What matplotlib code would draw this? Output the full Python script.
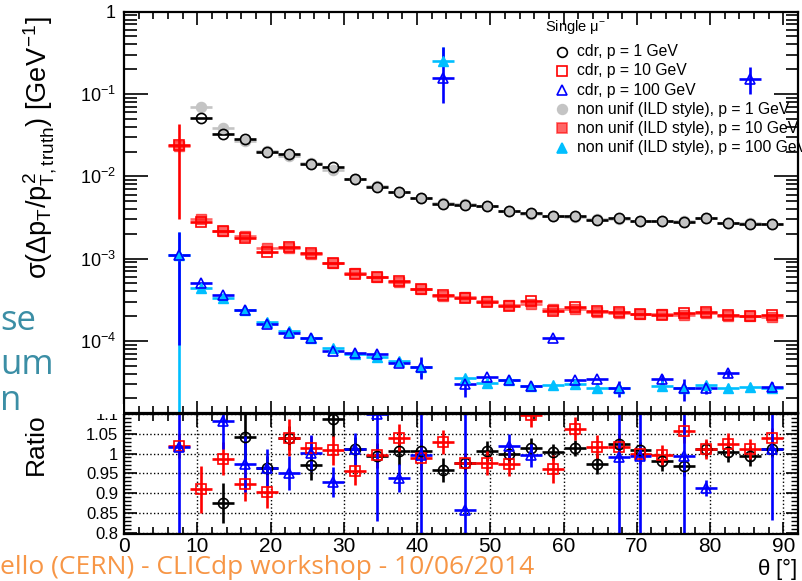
import numpy as np
import matplotlib
matplotlib.use('Agg')
import matplotlib.pyplot as plt
from matplotlib.lines import Line2D
from matplotlib.patches import Rectangle
from matplotlib.ticker import MultipleLocator, LogLocator, NullFormatter, FixedLocator, FixedFormatter

plt.rcParams['font.family'] = ['Liberation Sans', 'DejaVu Sans']
plt.rcParams['mathtext.fontset'] = 'custom'
plt.rcParams['mathtext.rm'] = 'Liberation Sans'
plt.rcParams['mathtext.it'] = 'Liberation Sans'
plt.rcParams['mathtext.bf'] = 'Liberation Sans:bold'

nan = np.nan

# bin centres (3 degree bins) and half width
theta = [7.5, 10.5, 13.5, 16.5, 19.5, 22.5, 25.5, 28.5, 31.5, 34.5, 37.5, 40.5, 43.5, 46.5,
         49.5, 52.5, 55.5, 58.5, 61.5, 64.5, 67.5, 70.5, 73.5, 76.5, 79.5, 82.5, 85.5, 88.5]
half_bin = 1.5

# sigma(dpT/pT^2) [GeV^-1]
nonunif_1 = [nan, 0.069, 0.0383, 0.0269, 0.0203, 0.0177, 0.0144, 0.0119, 0.0092, 0.0076, 0.0064,
             0.0055, 0.0048, 0.0046, 0.0043, 0.0038, 0.0035, 0.0033, 0.0032, 0.0030, 0.0030,
             0.00286, 0.00288, 0.00286, 0.0031, 0.00273, 0.00268, 0.00263]
cdr_1 = [nan, 0.0507, 0.033, 0.0280, 0.0195, 0.0184, 0.0140, 0.0129, 0.0093, 0.0075, 0.0064,
         0.0055, 0.0046, 0.0045, 0.0043, 0.0038, 0.0036, 0.0033, 0.00325, 0.00292, 0.00307,
         0.00288, 0.00283, 0.00277, 0.00313, 0.00274, 0.00266, 0.00266]
nonunif_10 = [0.0233, 0.0030, 0.00218, 0.0019, 0.00133, 0.00133, 0.00114, 0.00088, 0.000675,
              0.000593, 0.000515, 0.00043, 0.000354, 0.000339, 0.000305, 0.000273, 0.000278,
              0.000242, 0.000242, 0.000226, 0.00022, 0.00021, 0.00021, 0.000206, 0.00022,
              0.0002, 0.0002, 0.000197]
cdr_10 = [0.0237, 0.0028, 0.00215, 0.00176, 0.0012, 0.00138, 0.00116, 0.00089, 0.000645,
          0.000591, 0.000536, 0.000425, 0.000365, 0.000331, 0.000298, 0.000266, 0.000305,
          0.000233, 0.000257, 0.00023, 0.000224, 0.00021, 0.000209, 0.000218, 0.000223,
          0.000205, 0.000202, 0.000205]
cdr_10_lo = [0.0207, 0, 0, 0, 0, 0, 0, 0, 0, 0, 0, 0, 0, 0,
             0, 0, 0, 0, 0, 0, 0, 0, 0, 0, 0, 0, 0, 0]
cdr_10_hi = [0.0192, 0, 0, 0, 0, 0, 0, 0, 0, 0, 0, 0, 0, 0,
             0, 0, 0, 0, 0, 0, 0, 0, 0, 0, 0, 0, 0, 0]
nonunif_100 = [0.0011, 4.36e-4, 3.3e-4, 2.4e-4, 1.68e-4, 1.3e-4, 1.07e-4, 8.2e-5, 7.0e-5, 6.4e-5,
               5.7e-5, 4.8e-5, 0.252, 3.5e-5, 3.1e-5, 3.3e-5, 2.8e-5, 2.9e-5, 3.0e-5, 2.65e-5,
               2.7e-5, nan, 2.8e-5, 2.7e-5, 2.9e-5, 2.7e-5, 2.75e-5, 2.7e-5]
nonunif_100_lo = [0.001099, 0, 0, 0, 0, 0, 0, 0, 0, 0.8e-5, 0.5e-5, 1.2e-5, 0.03, 0.3e-5,
                  0.3e-5, 0, 0, 0.3e-5, 0, 0.3e-5, 0.3e-5, nan, 0.3e-5, 0.3e-5, 0.3e-5,
                  0.3e-5, 0.3e-5, 0.3e-5]
nonunif_100_hi = [0.001, 0, 0, 0, 0, 0, 0, 0, 0, 0.8e-5, 0.5e-5, 1.2e-5, 0.124, 0.3e-5,
                  0.3e-5, 0, 0, 0.3e-5, 0, 0.3e-5, 0.3e-5, nan, 0.3e-5, 0.3e-5, 0.3e-5,
                  0.3e-5, 0.3e-5, 0.3e-5]
cdr_100 = [0.00112, 5.1e-4, 3.57e-4, 2.34e-4, 1.62e-4, 1.24e-4, 1.07e-4, 7.6e-5, 7.1e-5, 7.0e-5,
           5.35e-5, 4.8e-5, 0.155, 3.0e-5, 3.67e-5, 3.37e-5, 2.8e-5, 1.09e-4, 3.35e-5, 3.4e-5,
           2.68e-5, nan, 3.4e-5, 2.68e-5, 2.65e-5, 4.04e-5, 0.151, 2.73e-5]
cdr_100_lo = [0.00103, 0, 0, 0, 0, 0, 0, 0, 0, 0.5e-5, 0, 1.4e-5, 0.078, 0.9e-5,
              0, 0, 0, 0.4e-5, 0, 0, 0.6e-5, nan, 0.5e-5, 0.8e-5, 0.4e-5, 0.4e-5, 0.05, 0.4e-5]
cdr_100_hi = [0.001, 0, 0, 0, 0, 0, 0, 0, 0, 0.5e-5, 0, 1.6e-5, 0.22, 0.9e-5,
              0, 0, 0, 0.4e-5, 0, 0, 0.6e-5, nan, 0.5e-5, 0.8e-5, 0.4e-5, 0.4e-5, 0.064, 0.4e-5]

# ratio cdr / non unif
ratio_1 = [nan, nan, 0.875, 1.041, 0.963, 1.04, 0.972, 1.086, 1.012, 0.993, 1.006, 1.006, 0.958,
           0.976, 1.006, 1.0, 1.014, 1.003, 1.014, 0.974, 1.025, 1.008, 0.982, 0.968, 1.012,
           1.004, 0.993, 1.012]
ratio_1_err = [nan, nan, 0.05, 0.06, 0.03, 0.03, 0.04, 0.045, 0.03, 0.03, 0.035, 0.03, 0.03,
               0.025, 0.025, 0.025, 0.025, 0.02, 0.02, 0.025, 0.025, 0.02, 0.025, 0.025, 0.02,
               0.025, 0.025, 0.02]
ratio_10 = [1.019, 0.910, 0.987, 0.923, 0.904, 1.04, 1.014, 1.008, 0.955, 0.997, 1.040, 0.989,
            1.030, 0.976, 0.976, 0.974, 1.098, 0.961, 1.063, 1.017, 1.016, 0.999, 0.997, 1.057,
            1.012, 1.023, 1.012, 1.040]
ratio_10_err = [0.03, 0.059, 0.042, 0.044, 0.042, 0.047, 0.03, 0.036, 0.034, 0.03, 0.034, 0.03,
                0.03, 0.025, 0.03, 0.03, 0.03, 0.035, 0.03, 0.03, 0.03, 0.025, 0.025, 0.03,
                0.025, 0.03, 0.025, 0.025]
ratio_100 = [1.016, nan, 1.082, 0.974, 0.964, 0.951, 1.002, 0.927, 1.012, 1.099, 0.938, 0.997,
             nan, 0.858, nan, 1.019, 0.997, nan, nan, nan, 0.992, 0.994, nan, 0.994, 0.913,
             nan, nan, 1.012]
ratio_100_err = [0.5, nan, 0.07, 0.07, 0.047, 0.042, 0.045, 0.038, 0.04, 0.27, 0.036, 0.5,
                 nan, 0.5, nan, 0.03, 0.03, nan, nan, nan, 0.5, 0.5, nan, 0.5, 0.02,
                 nan, nan, 0.18]

W, H = 802, 581


def box(l, t, r, b):
    return [l / W, 1 - b / H, (r - l) / W, (b - t) / H]


fig = plt.figure(figsize=(W / 100, H / 100), dpi=100)
ax = fig.add_axes(box(124, 11.7, 798, 412.7))
axr = fig.add_axes(box(124, 413.5, 798, 534.3))

grey = '#c4c4c4'
salmon = (1.0, 0.0, 0.0, 0.6)
cyan = '#00bfff'
lw = 1.9

# non uniform (filled) first, cdr (open) on top
ax.errorbar(theta, nonunif_1, xerr=half_bin, fmt='o', ms=7.3, mfc=grey, mec=grey,
            ecolor=grey, elinewidth=lw, capsize=0)
ax.errorbar(theta, nonunif_10, xerr=half_bin, fmt='s', ms=7.3,
            mfc=salmon, mec=salmon, ecolor=salmon, elinewidth=lw, capsize=0)
ax.errorbar(theta, nonunif_100, xerr=half_bin, yerr=[nonunif_100_lo, nonunif_100_hi],
            fmt='^', ms=7.8, mfc=cyan, mec=cyan, ecolor=cyan, elinewidth=lw, capsize=0)
ax.errorbar(theta, cdr_1, xerr=half_bin, fmt='o', ms=7.3, mfc='none', mec='black', mew=1.2,
            ecolor='black', elinewidth=lw, capsize=0)
ax.errorbar(theta, cdr_10, xerr=half_bin, yerr=[cdr_10_lo, cdr_10_hi], fmt='s', ms=7.3,
            mfc='none', mec='red', mew=1.2, ecolor='red', elinewidth=lw, capsize=0)
ax.errorbar(theta, cdr_100, xerr=half_bin, yerr=[cdr_100_lo, cdr_100_hi], fmt='^', ms=7.8,
            mfc='none', mec='blue', mew=1.2, ecolor='blue', elinewidth=lw, capsize=0)

ax.set_yscale('log')
ax.set_xlim(0, 92)
ax.set_ylim(1.34e-5, 1)
ax.yaxis.set_major_locator(FixedLocator([1e-4, 1e-3, 1e-2, 1e-1, 1]))
ax.yaxis.set_major_formatter(FixedFormatter([r'$10^{-4}$', r'$10^{-3}$', r'$10^{-2}$',
                                             r'$10^{-1}$', '1']))
ax.yaxis.set_minor_locator(LogLocator(base=10, subs=np.arange(2, 10), numticks=20))
ax.yaxis.set_minor_formatter(NullFormatter())
ax.xaxis.set_major_locator(MultipleLocator(10))
ax.xaxis.set_minor_locator(MultipleLocator(2))
ax.tick_params(axis='x', which='both', direction='in', top=True, bottom=True, labelbottom=False)
ax.tick_params(axis='x', which='major', length=9, width=1.2)
ax.tick_params(axis='x', which='minor', length=5, width=1.2)
ax.tick_params(axis='y', which='both', direction='in', left=True, right=True, labelsize=13, pad=6)
ax.tick_params(axis='y', which='major', length=17, width=1.2)
ax.tick_params(axis='y', which='minor', length=9, width=1.2)
for s in ax.spines.values():
    s.set_linewidth(1.6)

# ratio panel
axr.errorbar(theta, ratio_1, xerr=half_bin, yerr=ratio_1_err, fmt='o', ms=7.3, mfc='none',
             mec='black', mew=1.2, ecolor='black', elinewidth=lw, capsize=0)
axr.errorbar(theta, ratio_10, xerr=half_bin, yerr=ratio_10_err, fmt='s', ms=7.3, mfc='none',
             mec='red', mew=1.2, ecolor='red', elinewidth=lw, capsize=0)
axr.errorbar(theta, ratio_100, xerr=half_bin, yerr=ratio_100_err, fmt='^', ms=7.8, mfc='none',
             mec='blue', mew=1.2, ecolor='blue', elinewidth=lw, capsize=0)
axr.set_xlim(0, 92)
axr.set_ylim(0.796, 1.101)
axr.xaxis.set_major_locator(MultipleLocator(10))
axr.xaxis.set_minor_locator(MultipleLocator(2))
axr.yaxis.set_major_locator(FixedLocator([0.8, 0.85, 0.9, 0.95, 1.0, 1.05, 1.1]))
axr.yaxis.set_major_formatter(FixedFormatter(['0.8', '0.85', '0.9', '0.95', '1', '1.05', '1.1']))
axr.yaxis.set_minor_locator(MultipleLocator(0.01))
axr.grid(True, which='major', color='black', linestyle=':', linewidth=1.0)
axr.tick_params(axis='x', which='both', direction='in', top=True, bottom=True,
                labelsize=15, pad=2)
axr.tick_params(axis='x', which='major', length=9, width=1.2)
axr.tick_params(axis='x', which='minor', length=5, width=1.2)
axr.tick_params(axis='y', which='both', direction='in', left=True, right=True,
                labelsize=12, pad=4)
axr.tick_params(axis='y', which='major', length=9, width=1.2)
axr.tick_params(axis='y', which='minor', length=5, width=1.0)
for s in axr.spines.values():
    s.set_linewidth(1.6)

# hide the upper part of the cut "1.1" label like in the pad
fig.add_artist(Rectangle((80 / W, 1 - 414 / H), 43 / W, 10 / H, transform=fig.transFigure,
                         facecolor='white', edgecolor='none', zorder=5))

# axis titles
fig.text(40 / W, 1 - 148 / H, r'$\sigma(\Delta p_{T}/p^{2}_{T,truth})\ [GeV^{-1}]$',
         rotation=90, ha='center', va='center', fontsize=19.5)
fig.text(36 / W, 1 - 444 / H, 'Ratio', rotation=90, ha='center', va='center', fontsize=19)
fig.text(797 / W, 1 - 575 / H, r'$\theta$ [°]', ha='right', va='baseline', fontsize=16)

# legend
fig.text(545 / W, 1 - 27 / H, r'Single $\mu^{-}$', ha='left', va='center', fontsize=10.5)
leg_rows = [51.7, 71, 90, 109.3, 128.3, 147.7]
leg_labels = ['cdr, p = 1 GeV', 'cdr, p = 10 GeV', 'cdr, p = 100 GeV',
              'non unif (ILD style), p = 1 GeV', 'non unif (ILD style), p = 10 GeV',
              'non unif (ILD style), p = 100 GeV']
leg_styles = [dict(marker='o', mfc='none', mec='black'),
              dict(marker='s', mfc='none', mec='red'),
              dict(marker='^', mfc='none', mec='blue'),
              dict(marker='o', mfc=grey, mec=grey),
              dict(marker='s', mfc=salmon, mec=salmon),
              dict(marker='^', mfc=cyan, mec=cyan)]
for row, lab, st in zip(leg_rows, leg_labels, leg_styles):
    fig.add_artist(Line2D([562 / W], [1 - row / H], transform=fig.transFigure, ms=7, mew=1.2,
                          linestyle='none', **st))
    fig.text(577 / W, 1 - row / H, lab, ha='left', va='center', fontsize=11.3)

# slide fragments around the plot
teal = '#3b8ea5'
for word, base in [('se', 330), ('um', 374), ('n', 410)]:
    fig.text(0.0, 1 - base / H, word, ha='left', va='baseline', fontsize=25, color=teal,
             family=['Open Sans', 'DejaVu Sans'])
fig.text(0.0, 1 - 574 / H, 'ello (CERN) - CLICdp workshop - 10/06/2014', ha='left',
         va='baseline', fontsize=19, color='#f79646', family=['Open Sans', 'DejaVu Sans'],
         zorder=0)

fig.savefig('out.png', dpi=100)
